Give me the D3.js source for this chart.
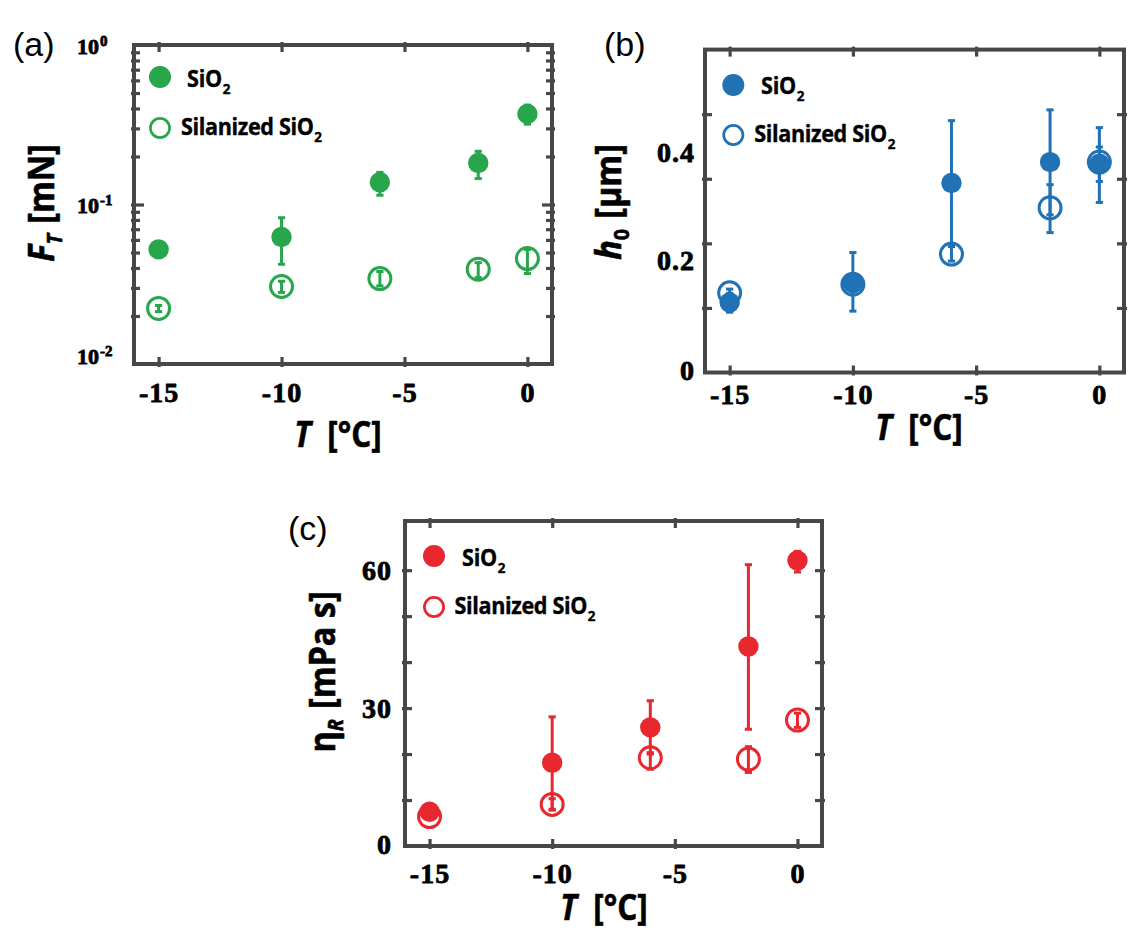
<!DOCTYPE html>
<html><head><meta charset="utf-8">
<script src="https://cdn.jsdelivr.net/npm/d3@7"></script>
<style>html,body{margin:0;padding:0;background:#fff} svg{display:block}</style>
</head><body>
<svg id="chart" width="1148" height="944"></svg>
<script>
// ---------- data ----------
const temps = [-15, -10, -6, -2, 0];
const xTickVals = [-15, -10, -5, 0];
const seriesNames = ["SiO", "Silanized SiO"];

// (a) F_T [mN]
const ftSiO2   = [0.0523, 0.0625, 0.138, 0.182, 0.370];
const ftSiO2Lo = [0.0505, 0.0422, 0.1143, 0.1454, 0.319];
const ftSiO2Hi = [0.0540, 0.0826, 0.159, 0.2155, 0.420];
const ftSil    = [0.0223, 0.0306, 0.0343, 0.0393, 0.0458];
const ftSilLo  = [0.0213, 0.0281, 0.0309, 0.0348, 0.0369];
const ftSilHi  = [0.0233, 0.0330, 0.0380, 0.0432, 0.0523];
const ftMajor = [0.01, 0.1, 1];
const ftLabelExp = ["-2", "-1", "0"];
const ftMinor = [0.02,0.03,0.04,0.05,0.06,0.07,0.08,0.09,0.2,0.3,0.4,0.5,0.6,0.7,0.8,0.9];

// (b) h0 [um]
const h0SiO2   = [0.130, 0.166, 0.352, 0.391, 0.388];
const h0SiO2Lo = [0.112, 0.114, 0.236, 0.293, 0.355];
const h0SiO2Hi = [0.147, 0.223, 0.468, 0.488, 0.419];
const h0Sil    = [0.148, 0.164, 0.220, 0.306, 0.391];
const h0SilLo  = [0.141, 0.158, 0.207, 0.260, 0.316];
const h0SilHi  = [0.155, 0.170, 0.234, 0.349, 0.455];
const h0Marks  = [0.12, 0.24, 0.36, 0.48];
const h0Labels = [0, 0.2, 0.4];

// (c) eta_R [mPa s]
const etaSiO2   = [7.45, 18.1, 25.8, 43.4, 62.1];
const etaSiO2Lo = [7.0, 8.0, 20.0, 25.4, 59.6];
const etaSiO2Hi = [7.9, 28.1, 31.6, 61.2, 64.1];
const etaSil    = [6.4, 9.05, 19.2, 18.9, 27.4];
const etaSilLo  = [6.0, 7.8, 16.7, 16.0, 25.8];
const etaSilHi  = [6.8, 10.3, 20.3, 21.6, 28.9];
const etaMarks  = [10, 20, 30, 40, 50, 60];
const etaLabels = [0, 30, 60];

// ---------- style ----------
const FRAME = "#474747";
const TICKFONT = "'Liberation Serif', 'DejaVu Serif', serif";
const LABELFONT = "'Open Sans', 'DejaVu Sans', sans-serif";
const PANELFONT = "'Liberation Sans', Arial, sans-serif";
const svg = d3.select("#chart");
svg.append("rect").attr("width", 1148).attr("height", 944).attr("fill", "#fff");

function addSegs(textSel, segs) {
  segs.forEach(s => {
    const t = textSel.append("tspan").text(s.t);
    if (s.size) t.attr("font-size", s.size);
    if (s.italic) t.attr("font-style", "italic");
    if (s.dy) t.attr("dy", s.dy);
    if (s.dx) t.attr("dx", s.dx);
  });
}
function heavy(sel, w) {
  return sel.attr("stroke", "#000").attr("stroke-width", w).attr("stroke-linejoin", "round").attr("paint-order", "stroke");
}

function drawPanel(p) {
  const g = svg.append("g");
  const x = d3.scaleLinear().domain([-16, 1]).range([p.L, p.R]);
  const y = p.y;

  // bottom axis
  const bx = g.append("g").attr("transform", `translate(0,${p.B})`)
    .call(d3.axisBottom(x).tickValues(xTickVals).tickFormat(d => String(d)).tickSizeOuter(0));
  bx.select(".domain").remove();
  bx.selectAll("line").attr("y1", 3).attr("y2", -7).attr("stroke", FRAME).attr("stroke-width", 3.2);
  heavy(bx.selectAll("text").attr("y", p.xTickBase).attr("dy", 0)
    .attr("font-family", TICKFONT).attr("font-size", 28).attr("font-weight", "bold")
    .attr("letter-spacing", 1).attr("fill", "#000"), 0.8);

  // top axis (marks only)
  const tx = g.append("g").attr("transform", `translate(0,${p.T})`)
    .call(d3.axisTop(x).tickValues(xTickVals).tickFormat("").tickSizeOuter(0));
  tx.select(".domain").remove();
  tx.selectAll("line").attr("y1", -3).attr("y2", 7).attr("stroke", FRAME).attr("stroke-width", 3.2);

  // left / right marks
  const lx = g.append("g").attr("transform", `translate(${p.L},0)`)
    .call(d3.axisLeft(y).tickValues(p.marks).tickFormat("").tickSizeOuter(0));
  lx.select(".domain").remove();
  lx.selectAll("line").attr("x1", -3).attr("x2", d => p.markLen(d)).attr("stroke", FRAME).attr("stroke-width", 3.2);
  const rx = g.append("g").attr("transform", `translate(${p.R},0)`)
    .call(d3.axisRight(y).tickValues(p.marks).tickFormat("").tickSizeOuter(0));
  rx.select(".domain").remove();
  rx.selectAll("line").attr("x1", 3).attr("x2", d => -p.markLen(d)).attr("stroke", FRAME).attr("stroke-width", 3.2);

  // y labels
  const ly = g.append("g").attr("transform", `translate(${p.L},0)`)
    .call(d3.axisLeft(y).tickValues(p.labels).tickSize(0).tickFormat(d => String(d)));
  ly.select(".domain").remove();
  ly.selectAll("line").remove();
  heavy(ly.selectAll("text").attr("fill", "#000").attr("font-family", TICKFONT).attr("font-weight", "bold"), 0.8);
  p.styleYLabels(ly.selectAll("text"));

  // frame
  g.append("rect").attr("x", p.L).attr("y", p.T).attr("width", p.R - p.L).attr("height", p.B - p.T)
    .attr("fill", "none").attr("stroke", FRAME).attr("stroke-width", 4);

  // error bars
  const eb = g.append("g").attr("stroke", p.color).attr("stroke-width", 3).attr("fill", "none");
  [[p.silLo, p.silHi], [p.sioLo, p.sioHi]].forEach(([lo, hi]) => {
    temps.forEach((t, i) => {
      const cx = x(t), y1 = y(lo[i]), y2 = y(hi[i]);
      eb.append("line").attr("x1", cx).attr("x2", cx).attr("y1", y1).attr("y2", y2);
      eb.append("line").attr("x1", cx - 3.6).attr("x2", cx + 3.6).attr("y1", y1).attr("y2", y1);
      eb.append("line").attr("x1", cx - 3.6).attr("x2", cx + 3.6).attr("y1", y2).attr("y2", y2);
    });
  });
  // markers
  g.append("g").selectAll("circle").data(temps).join("circle")
    .attr("cx", d => x(d)).attr("cy", (d, i) => y(p.sil[i])).attr("r", 11)
    .attr("fill", "none").attr("stroke", p.color).attr("stroke-width", 3);
  g.append("g").selectAll("circle").data(temps).join("circle")
    .attr("cx", d => x(d)).attr("cy", (d, i) => y(p.sio[i])).attr("r", 10.2)
    .attr("fill", p.color);

  // legend
  const lg = p.leg;
  g.append("circle").attr("cx", p.L + lg.cx).attr("cy", p.T + lg.cy1).attr("r", 11).attr("fill", p.color);
  g.append("circle").attr("cx", p.L + lg.cx).attr("cy", p.T + lg.cy2).attr("r", 9.6)
    .attr("fill", "none").attr("stroke", p.color).attr("stroke-width", 2.7);
  const t1 = heavy(g.append("text").attr("transform", `translate(${p.L + lg.tx1},${p.T + lg.ty1}) scale(0.9,1)`)
    .attr("font-family", LABELFONT).attr("font-weight", "bold").attr("font-size", 24).attr("fill", "#000")
    .attr("letter-spacing", -0.3), 0.4);
  addSegs(t1, [{t: seriesNames[0]}, {t: "2", size: 15, dy: 7, dx: 1}]);
  const t2 = heavy(g.append("text").attr("transform", `translate(${p.L + lg.tx2},${p.T + lg.ty2}) scale(0.9,1)`)
    .attr("font-family", LABELFONT).attr("font-weight", "bold").attr("font-size", 24).attr("fill", "#000")
    .attr("letter-spacing", -0.4), 0.4);
  addSegs(t2, [{t: seriesNames[1]}, {t: "2", size: 15, dy: 7, dx: 1}]);

  // axis titles
  const xt = heavy(g.append("text").attr("transform", `translate(${p.xTitleX},${p.xTitleY}) scale(0.9,1)`)
    .attr("text-anchor", "middle")
    .attr("font-family", LABELFONT).attr("font-weight", "bold").attr("font-size", 35).attr("fill", "#000")
    .attr("xml:space", "preserve"), 0.6);
  addSegs(xt, [{t: "T", italic: true}, {t: "  [°C]"}]);
  const yt = heavy(g.append("text").attr("transform", `translate(${p.yTitleX},${p.yTitleY}) rotate(-90) scale(0.9,1)`)
    .attr("text-anchor", "middle")
    .attr("font-family", LABELFONT).attr("font-weight", "bold").attr("font-size", 36).attr("fill", "#000")
    .attr("xml:space", "preserve"), 0.6);
  addSegs(yt, p.yTitle);

  // panel label
  g.append("text").attr("x", p.tagX).attr("y", p.tagY).attr("font-family", PANELFONT)
    .attr("font-size", 34).attr("fill", "#000").text(p.tag);
}

// (a)
drawPanel({
  L: 134, R: 552, T: 45, B: 364,
  y: d3.scaleLog().domain([0.01, 1]).range([364, 45]),
  color: "#27a64c",
  sio: ftSiO2, sioLo: ftSiO2Lo, sioHi: ftSiO2Hi, sil: ftSil, silLo: ftSilLo, silHi: ftSilHi,
  marks: ftMajor.slice(1, 2).concat(ftMinor),
  markLen: d => (Math.abs(Math.log10(d) - Math.round(Math.log10(d))) < 1e-6 ? 10 : 6),
  labels: ftMajor,
  styleYLabels: sel => {
    sel.each(function(d, i) {
      const t = d3.select(this);
      const ty = this.parentNode.transform.baseVal[0].matrix.f;
      t.text(null).attr("text-anchor", "start").attr("x", 77 - 134).attr("dy", 0)
        .attr("y", Math.min(ty + 8, 364) - ty)
        .attr("font-size", 22);
      addSegs(t, [{t: "10"}, {t: ftLabelExp[i], size: 15, dy: -8, dx: 1}]);
    });
  },
  xTickBase: 38,
  leg: {cx: 26, cy1: 32, cy2: 83, tx1: 53, ty1: 42, tx2: 47, ty2: 90},
  xTitleX: 338, xTitleY: 447,
  yTitleX: 54, yTitleY: 203,
  yTitle: [{t: "F", italic: true}, {t: "T", italic: true, size: 22, dy: 8}, {t: " [mN]", dy: -8, dx: 2}],
  tag: "(a)", tagX: 13, tagY: 56
});

// (b)
drawPanel({
  L: 705, R: 1124, T: 49.6, B: 372.5,
  y: d3.scaleLinear().domain([0, 0.6]).range([372.5, 49.6]),
  color: "#2171b5",
  sio: h0SiO2, sioLo: h0SiO2Lo, sioHi: h0SiO2Hi, sil: h0Sil, silLo: h0SilLo, silHi: h0SilHi,
  marks: h0Marks, markLen: () => 7,
  labels: h0Labels,
  styleYLabels: sel => {
    sel.attr("x", -10).attr("dy", "0.34em").attr("font-size", 28).attr("letter-spacing", 1)
      .attr("text-anchor", "end").attr("y", d => (d === 0 ? -3 : -5));
  },
  xTickBase: 31.5,
  leg: {cx: 28.3, cy1: 35.4, cy2: 85.4, tx1: 56, ty1: 44.7, tx2: 49.3, ty2: 92},
  xTitleX: 919, xTitleY: 440,
  yTitleX: 621, yTitleY: 202,
  yTitle: [{t: "h", italic: true}, {t: "0", size: 22, dy: 8}, {t: " [µm]", dy: -8, dx: 2}],
  tag: "(b)", tagX: 604, tagY: 56
});

// (c)
drawPanel({
  L: 405, R: 822, T: 521, B: 846,
  y: d3.scaleLinear().domain([0, 70.7]).range([846, 521]),
  color: "#e8272e",
  sio: etaSiO2, sioLo: etaSiO2Lo, sioHi: etaSiO2Hi, sil: etaSil, silLo: etaSilLo, silHi: etaSilHi,
  marks: etaMarks, markLen: () => 7,
  labels: etaLabels,
  styleYLabels: sel => {
    sel.attr("x", -13).attr("dy", "0.34em").attr("font-size", 28).attr("letter-spacing", 1)
      .attr("text-anchor", "end").attr("y", d => (d === 0 ? -2 : 0));
  },
  xTickBase: 36.5,
  leg: {cx: 29, cy1: 35, cy2: 86, tx1: 57, ty1: 44.7, tx2: 49.5, ty2: 93},
  xTitleX: 604, xTitleY: 920,
  yTitleX: 335, yTitleY: 672,
  yTitle: [{t: "η"}, {t: "R", italic: true, size: 22, dy: 8}, {t: " [mPa s]", dy: -8, dx: 2}],
  tag: "(c)", tagX: 288, tagY: 540
});
</script>
</body></html>
